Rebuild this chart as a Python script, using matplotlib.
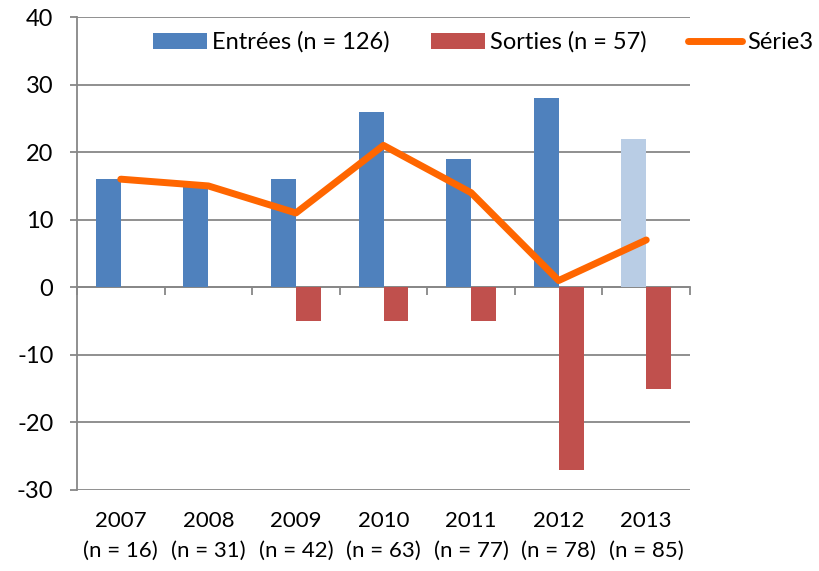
import numpy as np
import matplotlib.pyplot as plt

plt.rcParams["font.family"] = ["Lato", "DejaVu Sans"]
plt.rcParams["axes.unicode_minus"] = False

years = ["2007", "2008", "2009", "2010", "2011", "2012", "2013"]
counts = [16, 31, 42, 63, 77, 78, 85]
entrees = [16, 15, 16, 26, 19, 28, 22]
sorties = [0, 0, -5, -5, -5, -27, -15]
serie3 = [16, 15, 11, 21, 14, 1, 7]

BLUE = "#4F81BD"
LIGHT_BLUE = "#B9CDE5"
RED = "#C0504D"
ORANGE = "#FF6600"
GRID = "#878787"

x = np.arange(len(years))
w = 0.285

fig = plt.figure(figsize=(8.2, 5.71), dpi=100)
ax = fig.add_axes([0.0939, 0.1419, 0.8415 - 0.0939, 0.9702 - 0.1419])

colors_in = [BLUE] * (len(years) - 1) + [LIGHT_BLUE]
b1 = ax.bar(x - w / 2, entrees, w, color=colors_in, zorder=2)
b2 = ax.bar(x + w / 2, sorties, w, color=RED, zorder=2)
ln, = ax.plot(x, serie3, color=ORANGE, lw=5, solid_capstyle="round",
              solid_joinstyle="round", zorder=3)

ax.set_xlim(-0.5, len(years) - 0.5)
ax.set_ylim(-30, 40)
ax.set_yticks(range(-30, 41, 10))
ax.grid(axis="y", color=GRID, lw=1.3, zorder=0)
ax.set_axisbelow(True)

for s in ["top", "right", "bottom"]:
    ax.spines[s].set_visible(False)
ax.spines["left"].set_color(GRID)
ax.spines["left"].set_linewidth(1.3)
ax.tick_params(axis="y", direction="out", length=5, width=1.3, color=GRID,
               labelsize=17, pad=12)

ax.set_xticks(x)
ax.set_xticklabels([f"{y}\n(n = {n})" for y, n in zip(years, counts)],
                   fontsize=16, linespacing=1.65)
ax.tick_params(axis="x", length=0, pad=15)

# category axis at zero with boundary ticks
zero_pos = (0 - (-30)) / (40 - (-30))
sec = ax.secondary_xaxis(zero_pos)
sec.set_xticks(np.arange(-0.5, len(years), 1.0))
sec.set_xticklabels([])
sec.tick_params(direction="out", length=6, width=1.3, color=GRID)
sec.spines["bottom"].set_color(GRID)
sec.spines["bottom"].set_linewidth(1.3)

fig.legend([b1[0], b2, ln],
           ["Entrées (n = 126)", "Sorties (n = 57)", "Série3"],
           loc="center", bbox_to_anchor=(0.589, 0.926), ncol=3,
           frameon=False, fontsize=17, handlelength=2.3, handleheight=0.65,
           handletextpad=0.2, columnspacing=1.75)

fig.savefig("out.png", dpi=100)
